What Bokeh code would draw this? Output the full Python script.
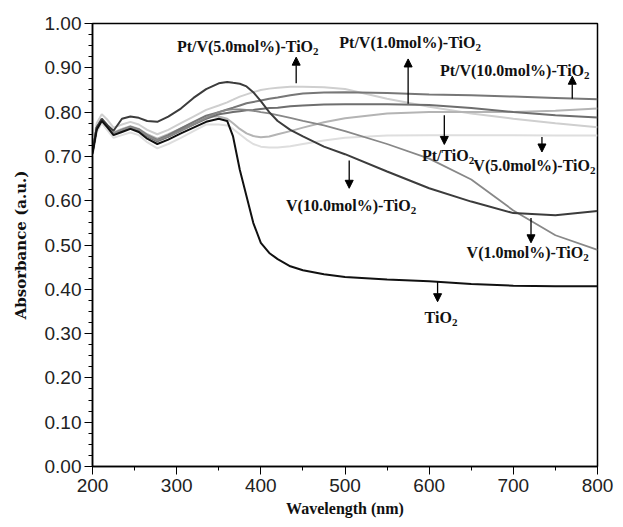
from bokeh.plotting import figure
from bokeh.models import Range1d, FixedTicker, NumeralTickFormatter, Arrow, NormalHead, ColumnDataSource
from bokeh.core.properties import value
from bokeh.embed import file_html
from bokeh.resources import INLINE

# ---- data ----
wavelength = [200, 205, 211, 218, 225, 235, 245, 255, 265, 277, 290, 305, 320, 335,
              350, 360, 367, 375, 383, 391, 400, 410, 420, 435, 450, 475, 500, 550,
              600, 650, 700, 750, 800]

tio2 = [0.705, 0.76, 0.78, 0.765, 0.748, 0.755, 0.762, 0.755, 0.74, 0.728, 0.738, 0.752, 0.765, 0.778,
        0.785, 0.78, 0.745, 0.67, 0.61, 0.55, 0.505, 0.482, 0.468, 0.452, 0.443, 0.434, 0.428, 0.422,
        0.418, 0.412, 0.408, 0.407, 0.407]
v10 = [0.71, 0.765, 0.785, 0.77, 0.758, 0.785, 0.79, 0.787, 0.78, 0.778, 0.79, 0.808, 0.832, 0.852,
       0.865, 0.868, 0.866, 0.864, 0.858, 0.845, 0.825, 0.80, 0.78, 0.76, 0.745, 0.722, 0.705, 0.666,
       0.628, 0.598, 0.572, 0.567, 0.577]
v1 = [0.71, 0.765, 0.782, 0.768, 0.752, 0.76, 0.766, 0.76, 0.747, 0.736, 0.745, 0.758, 0.772, 0.787,
      0.80, 0.805, 0.806, 0.806, 0.805, 0.803, 0.80, 0.797, 0.793, 0.787, 0.78, 0.77, 0.757, 0.728,
      0.695, 0.648, 0.578, 0.522, 0.489]
v5 = [0.70, 0.755, 0.775, 0.758, 0.742, 0.748, 0.754, 0.748, 0.732, 0.718, 0.728, 0.742, 0.757, 0.772,
      0.772, 0.77, 0.762, 0.75, 0.738, 0.728, 0.722, 0.72, 0.72, 0.723, 0.728, 0.736, 0.742, 0.747,
      0.748, 0.748, 0.748, 0.747, 0.747]
pt_tio2 = [0.71, 0.765, 0.783, 0.77, 0.754, 0.762, 0.768, 0.762, 0.75, 0.74, 0.75, 0.763, 0.776, 0.79,
           0.79, 0.785, 0.775, 0.762, 0.752, 0.746, 0.743, 0.745, 0.75, 0.757, 0.765, 0.777, 0.786, 0.797,
           0.80, 0.80, 0.80, 0.803, 0.808]
pt_v1 = [0.71, 0.765, 0.781, 0.766, 0.75, 0.758, 0.764, 0.758, 0.745, 0.734, 0.744, 0.758, 0.772, 0.785,
         0.795, 0.798, 0.80, 0.802, 0.804, 0.805, 0.807, 0.809, 0.81, 0.813, 0.815, 0.817, 0.818, 0.818,
         0.816, 0.809, 0.80, 0.793, 0.788]
pt_v5 = [0.72, 0.775, 0.795, 0.782, 0.765, 0.772, 0.778, 0.772, 0.76, 0.75, 0.76, 0.775, 0.79, 0.805,
         0.815, 0.822, 0.828, 0.835, 0.84, 0.845, 0.85, 0.853, 0.855, 0.857, 0.857, 0.856, 0.852, 0.83,
         0.812, 0.797, 0.785, 0.775, 0.766]
pt_v10 = [0.71, 0.765, 0.782, 0.768, 0.752, 0.76, 0.767, 0.761, 0.748, 0.737, 0.748, 0.763, 0.778, 0.792,
          0.80, 0.806, 0.81, 0.815, 0.82, 0.823, 0.826, 0.83, 0.833, 0.838, 0.842, 0.844, 0.845, 0.843,
          0.84, 0.838, 0.835, 0.832, 0.829]

x_ticks = [200, 300, 400, 500, 600, 700, 800]
y_ticks = [0.0, 0.1, 0.2, 0.3, 0.4, 0.5, 0.6, 0.7, 0.8, 0.9, 1.0]

# annotation labels: (text before subscript, x where "TiO" ends, y centre)
label_text = ["Pt/V(5.0mol%)-TiO", "Pt/V(1.0mol%)-TiO", "Pt/V(10.0mol%)-TiO", "Pt/TiO",
              "V(5.0mol%)-TiO", "V(10.0mol%)-TiO", "V(1.0mol%)-TiO", "TiO"]
label_x = [462, 655, 784, 647, 791, 578, 783, 627]
label_y = [0.948, 0.958, 0.894, 0.703, 0.680, 0.590, 0.482, 0.336]
arrow_x = [442, 575, 770, 618, 734, 505, 721, 610]
arrow_y0 = [0.865, 0.819, 0.830, 0.793, 0.744, 0.691, 0.561, 0.417]
arrow_y1 = [0.924, 0.920, 0.881, 0.727, 0.710, 0.628, 0.505, 0.372]

# ---- figure ----
p = figure(width=615, height=519, output_backend="svg", toolbar_location=None,
           x_range=Range1d(200, 800), y_range=Range1d(0, 1.0),
           min_border_left=92, min_border_right=18, min_border_top=23, min_border_bottom=52)
p.xgrid.visible = False
p.ygrid.visible = False
p.outline_line_color = "black"
p.outline_line_width = 1.5
p.background_fill_color = "white"
p.border_fill_color = "white"

series = [
    (v5, "#dedede", 2.0),
    (pt_v5, "#cfcfcf", 2.0),
    (pt_tio2, "#b4b4b4", 2.0),
    (pt_v1, "#6e6e6e", 2.0),
    (pt_v10, "#777777", 2.0),
    (v1, "#888888", 1.8),
    (v10, "#3c3c3c", 2.0),
    (tio2, "#111111", 2.0),
]
for ys, col, lw in series:
    p.line(wavelength, ys, line_color=col, line_width=lw)

for ax in (p.xaxis[0], p.yaxis[0]):
    ax.axis_line_color = "black"
    ax.axis_line_width = 1.5
    ax.major_tick_line_color = "black"
    ax.minor_tick_line_color = "black"
    ax.major_tick_in = 0
    ax.major_tick_out = 8
    ax.minor_tick_in = 0
    ax.minor_tick_out = 4
    ax.major_label_text_font = "Liberation Sans"
    ax.major_label_text_font_size = "19px"
    ax.major_label_text_color = "#222222"
    ax.axis_label_text_font_style = "bold"
    ax.axis_label_text_color = "#111111"

p.xaxis.ticker = FixedTicker(ticks=x_ticks, minor_ticks=[250, 350, 450, 550, 650, 750])
p.yaxis.ticker = FixedTicker(ticks=y_ticks,
                             minor_ticks=[round(i * 0.025, 3) for i in range(41) if i % 4])
p.yaxis.formatter = NumeralTickFormatter(format="0.00")
p.xaxis.axis_label = "Wavelength (nm)"
p.xaxis.axis_label_text_font = "Liberation Serif"
p.xaxis.axis_label_text_font_size = "16px"
p.xaxis.axis_label_standoff = 5
p.xaxis.major_label_standoff = 4
p.yaxis.axis_label = "Absorbance (a.u.)"
p.yaxis.axis_label_text_font = "DejaVu Serif"
p.yaxis.axis_label_text_font_size = "15px"
p.yaxis.axis_label_standoff = 12
p.yaxis.major_label_standoff = 3

# labels with subscript 2
src = ColumnDataSource(dict(x=label_x, y=label_y, t=label_text, s=["2"] * len(label_text)))
p.text(x="x", y="y", text="t", source=src, text_align="right", text_baseline="middle",
       text_font=value("Liberation Serif"), text_font_style="bold", text_font_size="16px",
       text_color="#111111")
p.text(x="x", y="y", text="s", source=src, text_align="left", text_baseline="middle",
       text_font=value("Liberation Serif"), text_font_style="bold", text_font_size="11px",
       text_color="#111111", y_offset=5, x_offset=0)

asrc = ColumnDataSource(dict(x0=arrow_x, y0=arrow_y0, x1=arrow_x, y1=arrow_y1))
p.add_layout(Arrow(end=NormalHead(size=8, fill_color="black", line_color="black"),
                   x_start="x0", y_start="y0", x_end="x1", y_end="y1", source=asrc,
                   line_color="black", line_width=1.3))

open("out.html", "w").write(file_html(p, INLINE))
